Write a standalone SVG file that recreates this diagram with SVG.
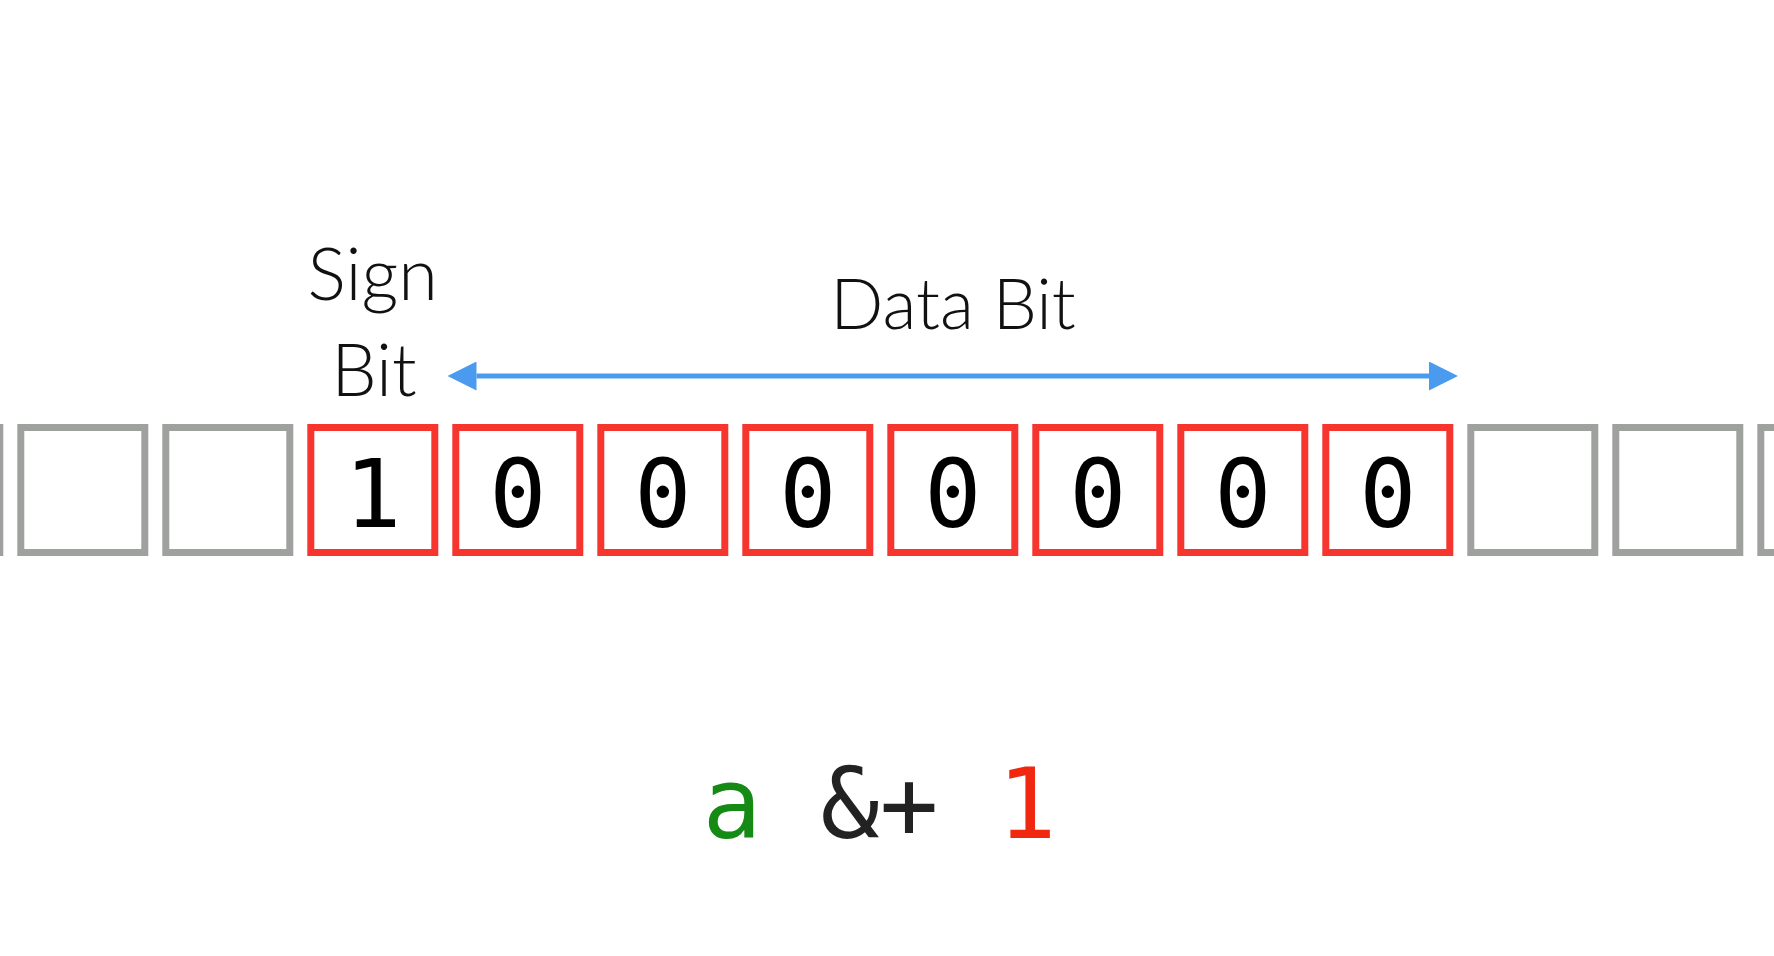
<svg xmlns="http://www.w3.org/2000/svg" width="1774" height="956" viewBox="0 0 1774 956">
  <style>
    .box { fill: #ffffff; stroke-width: 7; }
    .gray { stroke: #9fa19f; }
    .red { stroke: #f7352f; }
    .digit { font-family: "DejaVu Sans Mono", "Liberation Mono", monospace; font-size: 95px; fill: #000000; text-anchor: middle; font-variant-numeric: slashed-zero; }
    .label { font-family: Lato, "Open Sans", "Liberation Sans", sans-serif; font-weight: 300; font-size: 72px; fill: #111111; text-anchor: middle; }
    .expr { font-family: "DejaVu Sans Mono", "Liberation Mono", monospace; font-size: 98px; }
  </style>
  <defs>
    <marker id="head" viewBox="0 0 29 29" refX="0" refY="14.5" markerWidth="29" markerHeight="29" markerUnits="userSpaceOnUse" orient="auto-start-reverse">
      <path d="M0,0 L29,14.5 L0,29 Z" fill="#4a9bef"/>
    </marker>
  </defs>
  <rect x="0" y="0" width="1774" height="956" fill="#ffffff"/>

  <g id="labels">
    <text id="sign-label" class="label" x="372.8" y="300">Sign</text>
    <text id="bit-label" class="label" x="374" y="396">Bit</text>
    <text id="data-label" class="label" x="953" y="329" style="font-size:70px">Data Bit</text>
  </g>

  <g id="connectors">
    <line x1="476.5" y1="376" x2="1429" y2="376" stroke="#4a9bef" stroke-width="5" marker-start="url(#head)" marker-end="url(#head)"/>
  </g>

  <g id="cell-m3"><rect class="box gray" x="-124.2" y="427.5" width="124" height="125"/></g>
  <g id="cell-m2"><rect class="box gray" x="20.8" y="427.5" width="124" height="125"/></g>
  <g id="cell-m1"><rect class="box gray" x="165.8" y="427.5" width="124" height="125"/></g>

  <g id="bit-0"><rect class="box red" x="310.8" y="427.5" width="124" height="125"/><text class="digit" x="372.8" y="527">1</text></g>
  <g id="bit-1"><rect class="box red" x="455.8" y="427.5" width="124" height="125"/><text class="digit" x="517.8" y="527">0</text></g>
  <g id="bit-2"><rect class="box red" x="600.8" y="427.5" width="124" height="125"/><text class="digit" x="662.8" y="527">0</text></g>
  <g id="bit-3"><rect class="box red" x="745.8" y="427.5" width="124" height="125"/><text class="digit" x="807.8" y="527">0</text></g>
  <g id="bit-4"><rect class="box red" x="890.8" y="427.5" width="124" height="125"/><text class="digit" x="952.8" y="527">0</text></g>
  <g id="bit-5"><rect class="box red" x="1035.8" y="427.5" width="124" height="125"/><text class="digit" x="1097.8" y="527">0</text></g>
  <g id="bit-6"><rect class="box red" x="1180.8" y="427.5" width="124" height="125"/><text class="digit" x="1242.8" y="527">0</text></g>
  <g id="bit-7"><rect class="box red" x="1325.8" y="427.5" width="124" height="125"/><text class="digit" x="1387.8" y="527">0</text></g>

  <g id="cell-p1"><rect class="box gray" x="1470.8" y="427.5" width="124" height="125"/></g>
  <g id="cell-p2"><rect class="box gray" x="1615.8" y="427.5" width="124" height="125"/></g>
  <g id="cell-p3"><rect class="box gray" x="1760.8" y="427.5" width="124" height="125"/></g>

  <g id="expression">
    <text class="expr" x="702.5" y="838" xml:space="preserve"><tspan fill="#158a15">a</tspan><tspan fill="#222222"> &amp;+ </tspan><tspan fill="#f0280f">1</tspan></text>
  </g>
</svg>
